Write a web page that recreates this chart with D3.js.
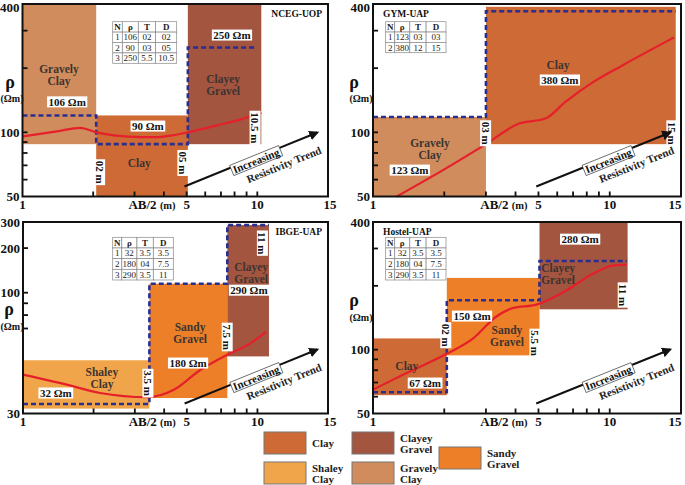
<!DOCTYPE html>
<html>
<head>
<meta charset="utf-8">
<script src="https://cdn.jsdelivr.net/npm/d3@7"></script>
<style>
  body { margin: 0; background: #fff; }
  text { font-family: "Liberation Serif", "Times New Roman", serif; }
</style>
</head>
<body>
<svg id="chart" width="685" height="485"></svg>
<script>
// soil types and their fill colours
const soilNames  = ["Clay", "Clayey Gravel", "Shaley Clay", "Gravely Clay", "Sandy Gravel"];
const soilColors = ["#CE6A35", "#A3553F", "#F1A54A", "#D18C5D", "#EC7F27"];

// x axis (AB/2, m) – same for every panel
const xTickVals = [1, 5, 10, 20];
const xTickText = ["1", "5", "10", "15"];
const xMinorTicks = [2, 3, 4, 6, 7, 8, 9];

// ---- NCEG-UOP ----
const p1Blocks = [
  {soil: "Gravely Clay", x0: 1, x1: 2.06, y0: 88, y1: 400},
  {soil: "Clay", x0: 2.06, x1: 5.06, y0: 50, y1: 120},
  {soil: "Clayey Gravel", x0: 5.06, x1: 10.4, y0: 88, y1: 400}
];
const p1Step = [[1, 120], [2.06, 120], [2.06, 88], [5.06, 88], [5.06, 250], [9.8, 250]];
const p1Curve = [[1, 95.7], [1.4, 101], [1.76, 105], [2.06, 100], [2.5, 96.5], [3.2, 95], [3.8, 95], [4.4, 97], [5.06, 100], [6.8, 108], [8.5, 115], [10.4, 124]];
const p1Soil = [["Gravely Clay", 1.43, 187], ["Clay", 3.14, 71.8], ["Clayey Gravel", 7.15, 168]];
const p1Ohm = [["106 Ωm", 1.55, 139], ["90 Ωm", 3.42, 107], ["250 Ωm", 7.8, 286]];
const p1Depth = [["02 m", 2.13, 65], ["05 m", 4.82, 71.8], ["10.5 m", 9.78, 105]];
const p1Table = [["N", "ρ", "T", "D"], ["1", "106", "02", "02"], ["2", "90", "03", "05"], ["3", "250", "5.5", "10.5"]];

// ---- GYM-UAP ----
const p2Blocks = [
  {soil: "Gravely Clay", x0: 1, x1: 3, y0: 50, y1: 118},
  {soil: "Clay", x0: 3, x1: 19, y0: 88, y1: 388}
];
const p2Step = [[1, 118], [3, 118], [3, 370], [19, 370]];
const p2Curve = [[1.26, 50], [2, 67], [3, 88], [4.14, 110], [5.35, 116], [6.5, 139], [8.5, 172], [11.3, 206], [18.7, 279]];
const p2Soil = [["Clay", 6.05, 207], ["Gravely Clay", 1.74, 84]];
const p2Ohm = [["380 Ωm", 6.16, 176], ["123 Ωm", 1.43, 66.5]];
const p2Depth = [["03 m", 2.99, 99], ["15 m", 18.3, 99]];
const p2Table = [["N", "ρ", "T", "D"], ["1", "123", "03", "03"], ["2", "380", "12", "15"]];

// ---- IBGE-UAP ----
const p3Blocks = [
  {soil: "Shaley Clay", x0: 1, x1: 3.46, y0: 31.5, y1: 51},
  {soil: "Sandy Gravel", x0: 3.46, x1: 7.44, y0: 35, y1: 115},
  {soil: "Clayey Gravel", x0: 7.44, x1: 11.2, y0: 53, y1: 286}
];
const p3Step = [[1, 33], [3.46, 33], [3.46, 115], [7.44, 115], [7.44, 286], [11.2, 286]];
const p3Curve = [[1, 44.2], [1.535, 40], [2.13, 36.8], [3.39, 35.3], [4.4, 38], [5.72, 46.4], [7.44, 53.9], [9.37, 60.5], [10.9, 67.9]];
const p3Soil = [["Shaley Clay", 2.17, 43], ["Sandy Gravel", 5.16, 67.3], ["Clayey Gravel", 9.4, 137]];
const p3Ohm = [["32 Ωm", 1.38, 36.8], ["180 Ωm", 5.06, 49.6], ["290 Ωm", 9.2, 104]];
const p3Depth = [["3.5 m", 3.41, 40.6], ["7.5 m", 7.43, 64.3], ["11 m", 10.5, 216]];
const p3Table = [["N", "ρ", "T", "D"], ["1", "32", "3.5", "3.5"], ["2", "180", "04", "7.5"], ["3", "290", "3.5", "11"]];

// ---- Hostel-UAP ----
const p4Blocks = [
  {soil: "Clay", x0: 1, x1: 2.05, y0: 61, y1: 113},
  {soil: "Sandy Gravel", x0: 2.05, x1: 5.05, y0: 94, y1: 218},
  {soil: "Clayey Gravel", x0: 5.05, x1: 11.9, y0: 155, y1: 400}
];
const p4Step = [[1, 63], [2.05, 63], [2.05, 171], [5.05, 171], [5.05, 262], [11.8, 262]];
const p4Curve = [[1, 64.8], [1.385, 77.6], [2.05, 95.6], [2.65, 113], [3.31, 143], [3.89, 157], [4.9, 163], [6.6, 191], [8.3, 225], [10.4, 250], [11.8, 252]];
const p4Soil = [["Clay", 1.39, 84], ["Sandy Gravel", 3.68, 116.6], ["Clayey Gravel", 6.05, 228]];
const p4Ohm = [["67 Ωm", 1.66, 69.6], ["150 Ωm", 2.62, 144], ["280 Ωm", 7.5, 332]];
const p4Depth = [["02 m", 2.03, 117], ["5.5 m", 4.83, 107.5], ["11 m", 11.4, 181]];
const p4Table = [["N", "ρ", "T", "D"], ["1", "32", "3.5", "3.5"], ["2", "180", "04", "7.5"], ["3", "290", "3.5", "11"]];

const svg = d3.select("#chart");
const color = d3.scaleOrdinal().domain(soilNames).range(soilColors);

// layout of the four panels
const panels = [
  {name: "NCEG-UOP", nameRight: true, frame: [22.5, 4, 328, 196.5],
   yDomain: [50, 400], yLabels: [50, 100, 400], yMinor: [60, 70, 80, 90, 200, 300],
   blocks: p1Blocks, step: p1Step, curve: p1Curve, soil: p1Soil, ohm: p1Ohm, depth: p1Depth,
   table: p1Table, tbl: [112.7, 21.7, 64, 41.6], rho: [10, 82, 12, 98]},
  {name: "GYM-UAP", nameRight: false, frame: [373, 4, 681, 196.5],
   yDomain: [50, 400], yLabels: [50, 100, 400], yMinor: [60, 70, 80, 90, 200, 300],
   blocks: p2Blocks, step: p2Step, curve: p2Curve, soil: p2Soil, ohm: p2Ohm, depth: p2Depth,
   table: p2Table, tbl: [385.7, 21.7, 60.3, 31], rho: [354, 82, 361, 98]},
  {name: "IBGE-UAP", nameRight: true, frame: [23, 222, 328, 413.5],
   yDomain: [30, 100, 300], yRange: [413.5, 292.7, 222], yLabels: [30, 100, 200, 300], yMinor: [70, 80, 90],
   blocks: p3Blocks, step: p3Step, curve: p3Curve, soil: p3Soil, ohm: p3Ohm, depth: p3Depth,
   table: p3Table, tbl: [112.7, 237.3, 60.6, 42.7], rho: [9, 309, 12, 326]},
  {name: "Hostel-UAP", nameRight: false, frame: [373, 222, 681, 413.5],
   yDomain: [50, 400], yLabels: [50, 100, 400], yMinor: [60, 70, 80, 90, 200, 300],
   blocks: p4Blocks, step: p4Step, curve: p4Curve, soil: p4Soil, ohm: p4Ohm, depth: p4Depth,
   table: p4Table, tbl: [385.7, 237.3, 60.3, 42.7], rho: [354, 300, 361, 317]}
];

svg.append("defs").append("marker")
  .attr("id", "arrowhead")
  .attr("viewBox", "0 0 10 10")
  .attr("refX", 8).attr("refY", 5)
  .attr("markerWidth", 5).attr("markerHeight", 5)
  .attr("orient", "auto")
  .append("path").attr("d", "M0,0 L10,5 L0,10 z").attr("fill", "#111");

// text with a white box behind it
function boxedText(g, px, py, txt, size, rotate, stroke) {
  const lg = g.append("g").attr("transform", `translate(${px},${py}) rotate(${rotate || 0})`);
  const t = lg.append("text")
    .attr("text-anchor", "middle")
    .attr("dominant-baseline", "central")
    .attr("font-size", size).attr("font-weight", "bold")
    .attr("fill", "#111")
    .text(txt);
  const bb = t.node().getBBox();
  lg.insert("rect", "text")
    .attr("x", bb.x - 1.5).attr("y", bb.y + 0.5)
    .attr("width", bb.width + 3).attr("height", bb.height - 1)
    .attr("fill", "#fff")
    .attr("stroke", stroke || "none").attr("stroke-width", 0.7);
  return lg;
}

panels.forEach(function (p) {
  const [L, T, R, B] = p.frame;
  const x = d3.scaleLog().domain([1, 20]).range([L, R]);
  const y = d3.scaleLog().domain(p.yDomain).range(p.yRange || [B, T]);
  const g = svg.append("g");

  // soil blocks
  g.selectAll(".blk").data(p.blocks).enter().append("rect")
    .attr("x", d => x(d.x0))
    .attr("y", d => y(d.y1))
    .attr("width", d => x(d.x1) - x(d.x0))
    .attr("height", d => y(d.y0) - y(d.y1))
    .attr("fill", d => color(d.soil));

  // interpreted layer model (dashed)
  g.append("path")
    .attr("d", d3.line().x(d => x(d[0])).y(d => y(d[1]))(p.step))
    .attr("fill", "none")
    .attr("stroke", "#2A2E8E")
    .attr("stroke-width", 2.6)
    .attr("stroke-dasharray", "5,3");

  // apparent resistivity curve
  g.append("path")
    .attr("d", d3.line().x(d => x(d[0])).y(d => y(d[1])).curve(d3.curveMonotoneX)(p.curve))
    .attr("fill", "none")
    .attr("stroke", "#E5202A")
    .attr("stroke-width", 2.2);

  // soil names (one text per line)
  p.soil.forEach(function (s) {
    const words = s[0].split(" ");
    words.forEach(function (wd, i) {
      g.append("text")
        .attr("x", x(s[1]))
        .attr("y", y(s[2]) + (words.length > 1 ? (i === 0 ? -1.5 : 10.5) : 4))
        .attr("text-anchor", "middle")
        .attr("font-size", 11.5).attr("font-weight", "bold")
        .attr("fill", "#3d3430")
        .text(wd);
    });
  });

  p.ohm.forEach(o => boxedText(g, x(o[1]), y(o[2]), o[0], 11));
  p.depth.forEach(o => boxedText(g, x(o[1]), y(o[2]), o[0], 11, 90));

  // table of layer parameters
  const [tx, ty, tw, th] = p.tbl;
  const colW = [0.15, 0.25, 0.27, 0.33];
  const rowH = th / p.table.length;
  const tg = g.append("g");
  p.table.forEach(function (row, ri) {
    let cx = tx;
    row.forEach(function (cell, ci) {
      const w = colW[ci] * tw;
      tg.append("rect")
        .attr("x", cx).attr("y", ty + ri * rowH)
        .attr("width", w).attr("height", rowH)
        .attr("fill", "#fff").attr("stroke", "#888").attr("stroke-width", 0.7);
      tg.append("text")
        .attr("x", cx + w / 2).attr("y", ty + ri * rowH + rowH / 2)
        .attr("text-anchor", "middle").attr("dominant-baseline", "central")
        .attr("font-size", 9)
        .attr("font-weight", ri === 0 ? "bold" : "normal")
        .attr("fill", "#222")
        .text(cell);
      cx += w;
    });
  });

  // station name
  g.append("text")
    .attr("x", p.nameRight ? R - 6 : L + 10)
    .attr("y", T + 13)
    .attr("text-anchor", p.nameRight ? "end" : "start")
    .attr("font-size", 9.5).attr("font-weight", "bold")
    .attr("fill", "#111")
    .text(p.name);

  // increasing resistivity trend arrow
  const w = R - L;
  const a0 = [L + 0.53 * w, B - 10], a1 = [L + 0.965 * w, B - 64];
  g.append("line")
    .attr("x1", a0[0]).attr("y1", a0[1]).attr("x2", a1[0]).attr("y2", a1[1])
    .attr("stroke", "#111").attr("stroke-width", 2)
    .attr("marker-end", "url(#arrowhead)");
  const ang = Math.atan2(a1[1] - a0[1], a1[0] - a0[0]);
  const deg = ang * 180 / Math.PI;
  // point along the arrow, pushed off it by 'off' px (positive = below)
  const at = (t, off) => [a0[0] + t * (a1[0] - a0[0]) - Math.sin(ang) * off,
                          a0[1] + t * (a1[1] - a0[1]) + Math.cos(ang) * off];
  const c1 = at(0.53, 3);
  boxedText(g, c1[0], c1[1], "Increasing", 11, deg, "#444");
  const c2 = at(0.7, 17);
  g.append("text")
    .attr("transform", `translate(${c2[0]},${c2[1]}) rotate(${deg})`)
    .attr("text-anchor", "middle").attr("dominant-baseline", "central")
    .attr("font-size", 11).attr("font-weight", "bold").attr("fill", "#222")
    .text("Resistivity Trend");

  // frame
  g.append("rect")
    .attr("x", L).attr("y", T).attr("width", R - L).attr("height", B - T)
    .attr("fill", "none").attr("stroke", "#111").attr("stroke-width", 2);

  // x ticks (inside)
  g.selectAll(".xt").data(xMinorTicks.concat([5, 10])).enter().append("line")
    .attr("x1", d => x(d)).attr("x2", d => x(d))
    .attr("y1", B).attr("y2", B - 5)
    .attr("stroke", "#111").attr("stroke-width", 1.8);
  g.selectAll(".xl").data(xTickVals).enter().append("text")
    .attr("x", d => Math.min(x(d) + (d === 20 ? 2 : 0), 675))
    .attr("y", B + 12)
    .attr("text-anchor", "middle")
    .attr("font-size", 13).attr("font-weight", "bold").attr("fill", "#111")
    .text((d, i) => xTickText[i]);
  const ab = g.append("text")
    .attr("x", x(5) - 11).attr("y", B + 12)
    .attr("text-anchor", "end")
    .attr("font-size", 13).attr("font-weight", "bold").attr("fill", "#111");
  ab.append("tspan").text("AB/2 ");
  ab.append("tspan").attr("font-size", 10.5).text("(m)");

  // y ticks (inside)
  g.selectAll(".yt").data(p.yMinor.concat(p.yLabels.slice(1, -1))).enter().append("line")
    .attr("x1", L).attr("x2", L + 5)
    .attr("y1", d => y(d)).attr("y2", d => y(d))
    .attr("stroke", "#111").attr("stroke-width", 1.8);
  g.selectAll(".yl").data(p.yLabels).enter().append("text")
    .attr("x", L - 3).attr("y", d => Math.max(y(d) + 4.5, 11.5))
    .attr("text-anchor", "end")
    .attr("font-size", 13).attr("font-weight", "bold").attr("fill", "#111")
    .text(d => d);

  g.append("text")
    .attr("x", p.rho[0]).attr("y", p.rho[1] + 6)
    .attr("text-anchor", "middle")
    .attr("font-size", 18).attr("font-weight", "bold").attr("fill", "#111")
    .text("ρ");
  g.append("text")
    .attr("x", p.rho[2]).attr("y", p.rho[3] + 4)
    .attr("text-anchor", "middle")
    .attr("font-size", 10).attr("font-weight", "bold").attr("fill", "#111")
    .text("(Ωm)");
});

// legend
const legendPos = [[264, 432], [352, 432], [264, 462], [352, 462], [439, 447]];
const lg = svg.append("g");
soilNames.forEach(function (name, i) {
  const [lx, ly] = legendPos[i];
  lg.append("rect")
    .attr("x", lx).attr("y", ly).attr("width", 42).attr("height", 22)
    .attr("fill", color(name)).attr("stroke", "#777").attr("stroke-width", 1);
  const words = name.split(" ");
  const t = lg.append("text")
    .attr("x", lx + 47).attr("y", ly + 11)
    .attr("font-size", 11).attr("font-weight", "bold").attr("fill", "#222");
  words.forEach(function (wd, k) {
    t.append("tspan").attr("x", lx + 48)
      .attr("dy", k === 0 ? (words.length > 1 ? -1.5 : 4) : 11)
      .text(wd);
  });
});
</script>
</body>
</html>
